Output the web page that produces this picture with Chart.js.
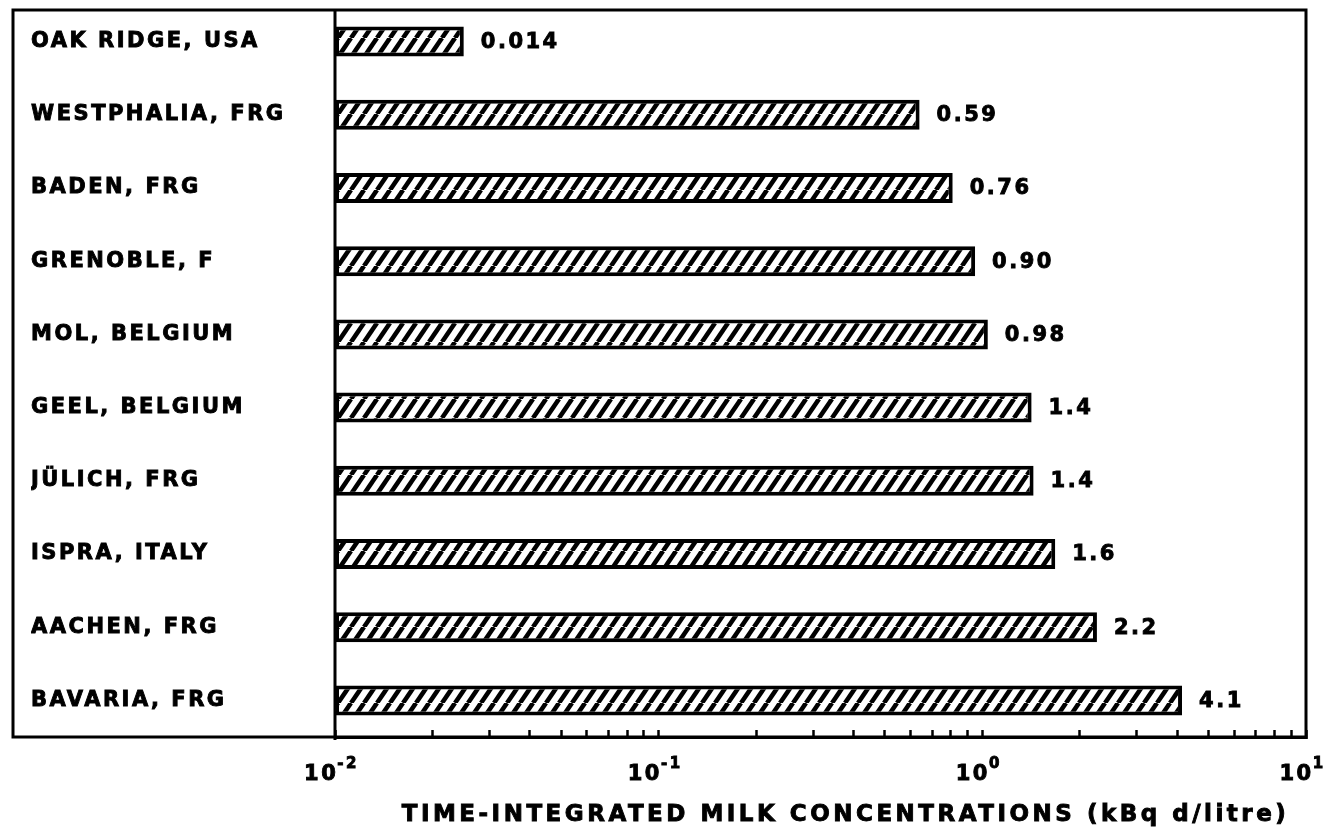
<!DOCTYPE html>
<html lang="en">
<head>
<meta charset="UTF-8" />
<title>Time-integrated milk concentrations</title>
<script src="https://cdn.jsdelivr.net/npm/chart.js@4.4.0/dist/chart.umd.min.js"></script>
<style>
  html, body { margin: 0; padding: 0; background: #fff; }
</style>
</head>
<body>
<canvas id="chart" width="1330" height="831"></canvas>
<script>
  const sites = [
    "OAK RIDGE, USA",
    "WESTPHALIA, FRG",
    "BADEN, FRG",
    "GRENOBLE, F",
    "MOL, BELGIUM",
    "GEEL, BELGIUM",
    "JÜLICH, FRG",
    "ISPRA, ITALY",
    "AACHEN, FRG",
    "BAVARIA, FRG",
  ];
  // bar lengths as drawn
  const barValues = [0.025, 0.64, 0.81, 0.95, 1.04, 1.42, 1.44, 1.68, 2.26, 4.14];
  // numbers printed next to the bars
  const valueLabels = ["0.014", "0.59", "0.76", "0.90", "0.98", "1.4", "1.4", "1.6", "2.2", "4.1"];
  const decades = [0.01, 0.1, 1, 10];
  const decadeExponents = ["-2", "-1", "0", "1"];
  const axisTitle = "TIME-INTEGRATED MILK CONCENTRATIONS (kBq d/litre)";

  const FONT = '"DejaVu Sans"';

  // minor ticks 1..9 in every decade, then the last decade mark
  const tickValues = [];
  decades.slice(0, -1).forEach((d) => {
    for (let m = 1; m <= 9; m++) tickValues.push(d * m);
  });
  tickValues.push(decades[decades.length - 1]);

  const makeHatch = () => {
    const w = 13;
    const h = 19;
    const c = document.createElement("canvas");
    c.width = w;
    c.height = h;
    const g = c.getContext("2d");
    g.fillStyle = "#fff";
    g.fillRect(0, 0, w, h);
    g.strokeStyle = "#000";
    g.lineWidth = 4.6;
    for (let k = 0; k < 3; k++) {
      g.beginPath();
      g.moveTo((k - 1) * w, h);
      g.lineTo(k * w, 0);
      g.stroke();
    }
    return g.createPattern(c, "repeat");
  };

  const spacing = {
    id: "spacing",
    beforeUpdate(chart) {
      chart.ctx.letterSpacing = "2.5px";
    },
    beforeDraw(chart) {
      chart.ctx.letterSpacing = "2.5px";
    },
  };

  // heavy text: fill plus a thin stroke, like the blotted print
  const heavyText = (ctx, text, x, y) => {
    ctx.fillText(text, x, y);
    ctx.strokeText(text, x, y);
  };

  const valueText = {
    id: "valueText",
    afterDatasetsDraw(chart) {
      const ctx = chart.ctx;
      ctx.save();
      ctx.font = `bold 21px ${FONT}`;
      ctx.fillStyle = "#000";
      ctx.strokeStyle = "#000";
      ctx.lineWidth = 0.9;
      ctx.textAlign = "left";
      ctx.textBaseline = "middle";
      chart.getDatasetMeta(0).data.forEach((bar, i) => {
        heavyText(ctx, valueLabels[i], bar.x + 17, bar.y + 1);
      });
      ctx.restore();
    },
  };

  const frame = {
    id: "frame",
    afterDraw(chart) {
      const { ctx, chartArea: a } = chart;
      const x = chart.scales.x;
      const y = chart.scales.y;
      ctx.save();
      ctx.strokeStyle = "#000";
      ctx.lineWidth = 3;
      const left = y.left - 18;
      const top = a.top + 5;
      ctx.strokeRect(left, top, a.right - left, a.bottom - top);
      // separator between the names and the bars
      ctx.beginPath();
      ctx.moveTo(a.left, top);
      ctx.lineTo(a.left, a.bottom + 3);
      ctx.stroke();

      ctx.fillStyle = "#000";
      ctx.lineWidth = 0.9;
      ctx.textBaseline = "alphabetic";

      // 10^n labels with raised exponents
      ctx.textAlign = "left";
      decades.forEach((d, i) => {
        const px = x.getPixelForValue(d);
        ctx.font = `bold 21px ${FONT}`;
        const wBase = ctx.measureText("10").width;
        ctx.font = `bold 15px ${FONT}`;
        const wExp = ctx.measureText(decadeExponents[i]).width;
        const start = px - (wBase + wExp) / 2 - 3;
        ctx.font = `bold 21px ${FONT}`;
        heavyText(ctx, "10", start, x.top + 43);
        ctx.font = `bold 15px ${FONT}`;
        heavyText(ctx, decadeExponents[i], start + wBase - 1, x.top + 31);
      });

      // axis title
      ctx.letterSpacing = "3.5px";
      ctx.textAlign = "center";
      ctx.font = `bold 23px ${FONT}`;
      heavyText(ctx, axisTitle, (x.left + x.right) / 2 + 25, x.bottom - 10);
      ctx.restore();
    },
  };

  const chart = new Chart(document.getElementById("chart"), {
    type: "bar",
    data: {
      labels: sites,
      datasets: [
        {
          data: barValues,
          backgroundColor: makeHatch(),
          borderColor: "#000",
          borderWidth: 4,
          borderSkipped: false,
          barPercentage: 0.41,
          categoryPercentage: 1,
        },
      ],
    },
    options: {
      indexAxis: "y",
      responsive: false,
      animation: false,
      events: [],
      layout: { padding: { left: 31, top: 5, right: 24, bottom: 0 } },
      plugins: {
        legend: { display: false },
        tooltip: { enabled: false },
      },
      scales: {
        x: {
          type: "logarithmic",
          min: decades[0],
          max: decades[decades.length - 1],
          afterBuildTicks: (s) => {
            s.ticks = tickValues.map((v) => ({ value: v }));
          },
          afterFit: (s) => {
            s.height = 94;
            s.paddingLeft = 0;
            s.paddingRight = 0;
          },
          grid: {
            drawOnChartArea: false,
            drawTicks: true,
            tickLength: -7,
            color: "#000",
            tickColor: "#000",
            tickWidth: 2.5,
          },
          border: { display: true, color: "#000", width: 3 },
          ticks: { autoSkip: false, maxRotation: 0, callback: () => "" },
        },
        y: {
          afterFit: (s) => {
            s.width = 304;
            s.paddingTop = 0;
            s.paddingBottom = 0;
          },
          grid: { display: false, drawTicks: false },
          border: { display: false },
          ticks: {
            crossAlign: "far",
            color: "#000",
            padding: 0,
            textStrokeColor: "#000",
            textStrokeWidth: 0.9,
            font: { family: "DejaVu Sans", size: 21, weight: "bold" },
          },
        },
      },
    },
    plugins: [spacing, valueText, frame],
  });
</script>
</body>
</html>
